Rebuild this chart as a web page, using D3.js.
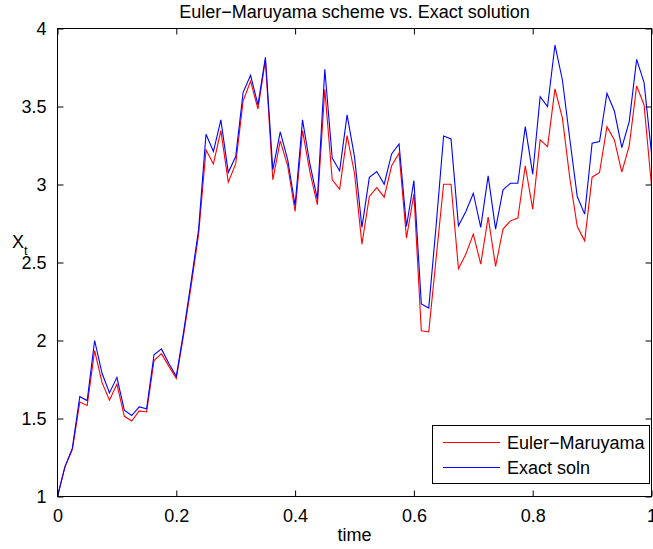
<!DOCTYPE html>
<html>
<head>
<meta charset="utf-8">
<script src="https://cdn.jsdelivr.net/npm/d3@7/dist/d3.min.js"></script>
<style>
  html, body { margin: 0; padding: 0; background: #fff; }
  svg { display: block; }
  text { font-family: "Liberation Sans", Arial, Helvetica, sans-serif; fill: #000; }
</style>
</head>
<body>
<svg id="chart" width="653" height="549"></svg>
<script>
// Time grid: 80 steps of 1/80 on [0, 1]
const steps = 80;
const time = d3.range(steps + 1).map(i => i / steps);

// Euler–Maruyama approximation
const eulerMaruyama = [
  1.00, 1.19, 1.30, 1.605, 1.583, 1.935, 1.73, 1.617, 1.72, 1.514,
  1.484, 1.549, 1.542, 1.871, 1.916, 1.834, 1.757, 2.04, 2.35, 2.68,
  3.222, 3.132, 3.345, 3.015, 3.132, 3.536, 3.662, 3.484, 3.798, 3.03,
  3.28, 3.12, 2.827, 3.345, 3.08, 2.87, 3.61, 3.03, 2.97, 3.313,
  3.072, 2.618, 2.923, 2.98, 2.919, 3.12, 3.20, 2.656, 2.94, 2.063,
  2.055, 2.53, 3.002, 3.002, 2.46, 2.554, 2.682, 2.49, 2.791, 2.475,
  2.714, 2.767, 2.785, 3.12, 2.842, 3.286, 3.243, 3.613, 3.425, 3.04,
  2.731, 2.639, 3.047, 3.077, 3.371, 3.286, 3.079, 3.247, 3.632, 3.51,
  2.99
];

// Exact solution on the same grid
const exactSoln = [
  1.00, 1.19, 1.31, 1.64, 1.615, 2.00, 1.79, 1.664, 1.764, 1.553,
  1.519, 1.574, 1.562, 1.909, 1.946, 1.852, 1.77, 2.06, 2.38, 2.71,
  3.322, 3.211, 3.414, 3.077, 3.179, 3.591, 3.70, 3.51, 3.815, 3.094,
  3.337, 3.16, 2.865, 3.414, 3.13, 2.906, 3.739, 3.169, 3.087, 3.446,
  3.179, 2.725, 3.046, 3.083, 3.002, 3.196, 3.26, 2.731, 3.025, 2.234,
  2.208, 2.74, 3.311, 3.292, 2.735, 2.827, 2.944, 2.725, 3.055, 2.714,
  2.966, 3.008, 3.008, 3.371, 3.066, 3.563, 3.499, 3.894, 3.67, 3.29,
  2.923, 2.81, 3.264, 3.275, 3.585, 3.471, 3.237, 3.403, 3.802, 3.653,
  3.20
];

const xTicks = [0, 0.2, 0.4, 0.6, 0.8, 1];
const yTicks = [1, 1.5, 2, 2.5, 3, 3.5, 4];

const seriesNames = ["Euler\u2212Maruyama", "Exact soln"];
const seriesColors = ["#ff0000", "#0000ff"];

const svg = d3.select("#chart");
const plotLeft = 57.5, plotRight = 651.5, plotTop = 28.5, plotBottom = 496.5;

const x = d3.scaleLinear().domain([0, 1]).range([plotLeft, plotRight]);
const y = d3.scaleLinear().domain([1, 4]).range([plotBottom, plotTop]);

const fmt = d => d3.format("")(d);

// Data lines (red drawn first, blue on top)
const line = d3.line().x((d, i) => x(time[i])).y(d => y(d));
[eulerMaruyama, exactSoln].forEach((vals, k) => {
  svg.append("path")
    .datum(vals)
    .attr("d", line)
    .attr("fill", "none")
    .attr("stroke", seriesColors[k])
    .attr("stroke-width", 1.1)
    .attr("stroke-linejoin", "miter");
});

// Axes with inward ticks on all four sides
const tick = 6;
const axB = d3.axisBottom(x).tickValues(xTicks).tickSize(-tick).tickPadding(14).tickFormat(fmt);
const axT = d3.axisTop(x).tickValues(xTicks).tickSize(-tick).tickFormat("");
const axL = d3.axisLeft(y).tickValues(yTicks).tickSize(-tick).tickPadding(11).tickFormat(fmt);
const axR = d3.axisRight(y).tickValues(yTicks).tickSize(-tick).tickFormat("");

function styleAxis(g) {
  g.select(".domain").remove();
  g.selectAll(".tick line").attr("stroke", "#000").attr("stroke-width", 1);
  g.selectAll(".tick text").style("font-size", "18px").attr("fill", "#000");
}

svg.append("g").attr("transform", `translate(0,${plotBottom})`).call(axB).call(styleAxis)
  .selectAll(".tick text").attr("dy", "0.71em").attr("y", 13);
svg.append("g").attr("transform", `translate(0,${plotTop})`).call(axT).call(styleAxis);
svg.append("g").attr("transform", `translate(${plotLeft},0)`).call(axL).call(styleAxis)
  .selectAll(".tick text").attr("dy", "0.35em");
svg.append("g").attr("transform", `translate(${plotRight},0)`).call(axR).call(styleAxis);

// Axes box
svg.append("rect")
  .attr("x", plotLeft).attr("y", plotTop)
  .attr("width", plotRight - plotLeft).attr("height", plotBottom - plotTop)
  .attr("fill", "none").attr("stroke", "#000").attr("stroke-width", 1);

// Title and axis labels
svg.append("text")
  .attr("x", (plotLeft + plotRight) / 2).attr("y", 18)
  .attr("text-anchor", "middle").style("font-size", "18px")
  .text("Euler\u2212Maruyama scheme vs. Exact solution");

svg.append("text")
  .attr("x", (plotLeft + plotRight) / 2).attr("y", 541)
  .attr("text-anchor", "middle").style("font-size", "18px")
  .text("time");

const yl = svg.append("text").attr("x", 12).attr("y", 248).style("font-size", "18px");
yl.append("tspan").text("X");
yl.append("tspan").attr("dy", 7).style("font-size", "13px").text("t");

// Legend
const lg = svg.append("g");
lg.append("rect")
  .attr("x", 432.5).attr("y", 425.5).attr("width", 217).attr("height", 58)
  .attr("fill", "#fff").attr("stroke", "#000").attr("stroke-width", 1);
seriesNames.forEach((name, k) => {
  const yy = 442.5 + k * 25;
  lg.append("line")
    .attr("x1", 443).attr("x2", 500).attr("y1", yy).attr("y2", yy)
    .attr("stroke", seriesColors[k]).attr("stroke-width", 1);
  lg.append("text")
    .attr("x", 507).attr("y", yy + 6)
    .style("font-size", "18px")
    .text(name);
});
</script>
</body>
</html>
